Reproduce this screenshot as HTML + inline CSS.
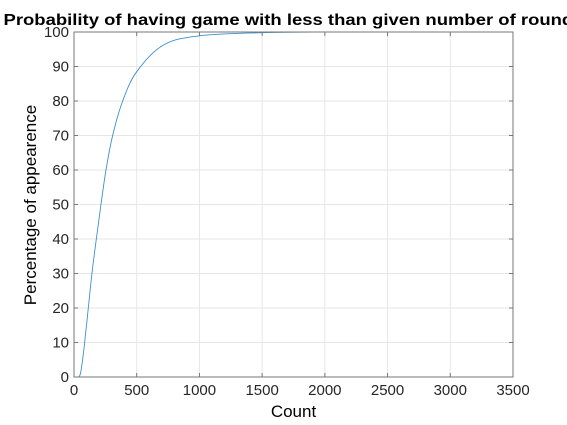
<!DOCTYPE html>
<html><head><meta charset="utf-8"><style>
html,body{margin:0;padding:0;background:#fff;}
svg{display:block;font-family:"Liberation Sans",Arial,sans-serif;}
</style></head><body>
<svg id="chart" width="567" height="425" viewBox="0 0 567 425" xmlns="http://www.w3.org/2000/svg">
<rect x="74" y="32" width="439" height="345" fill="#fff"/>
<g id="grid"></g>
<g id="curve"></g>
<g id="axes"></g>
<text x="293.5" y="25" text-anchor="middle" font-size="15.5" font-weight="bold" textLength="580" lengthAdjust="spacingAndGlyphs">Probability of having game with less than given number of rounds</text>
<text x="293.5" y="417" text-anchor="middle" font-size="17">Count</text>
<text transform="translate(36,205) rotate(-90)" text-anchor="middle" font-size="17">Percentage of appearence</text>
</svg>
<script>
const xTicks=[0,500,1000,1500,2000,2500,3000,3500];
const yTicks=[0,10,20,30,40,50,60,70,80,90,100];
const counts=[0,35,50,61,72,85,114,143,178,215,255,308,388,500,712,1000,1500,2000,3237];
const percents=[0,0,0.8,3,6,10,20,30,40,50,60,70,80,88.5,96.2,98.9,99.8,100,100];
const L=74,R=513,T=32,B=377;
const sx=v=>L+(v-0)/(3500-0)*(R-L);
const sy=v=>B-(v-0)/(100-0)*(B-T);
const NS="http://www.w3.org/2000/svg";
const grid=document.getElementById('grid'),axes=document.getElementById('axes'),curve=document.getElementById('curve');
function mk(tag,attrs,parent){const e=document.createElementNS(NS,tag);for(const k in attrs)e.setAttribute(k,attrs[k]);parent.appendChild(e);return e;}
xTicks.forEach(t=>{
  const g=mk('line',{x1:sx(t),x2:sx(t),y1:T,y2:B,stroke:'#e6e6e6','stroke-width':1},grid);
  
  
  const tk=mk('line',{x1:sx(t),x2:sx(t),y1:B,y2:B-4,stroke:'#777'},axes);
  
  
  const tk2=mk('line',{x1:sx(t),x2:sx(t),y1:T,y2:T+4,stroke:'#777'},axes);
  
  
  const tx=mk('text',{x:sx(t),y:B+18,'text-anchor':'middle','font-size':15,fill:'#262626'},axes);
  tx.textContent=t;
  
  
});
yTicks.forEach(t=>{
  const g=mk('line',{x1:L,x2:R,y1:sy(t),y2:sy(t),stroke:'#e6e6e6','stroke-width':1},grid);
  
  
  const tk=mk('line',{x1:L,x2:L+4,y1:sy(t),y2:sy(t),stroke:'#777'},axes);
  
  
  const tk2=mk('line',{x1:R,x2:R-4,y1:sy(t),y2:sy(t),stroke:'#777'},axes);
  
  
  const tx=mk('text',{x:L-5,y:sy(t)+5,'text-anchor':'end','font-size':15,fill:'#262626'},axes);
  tx.textContent=t;
  
  
});
const box=mk('rect',{x:L,y:T,width:R-L,height:B-T,fill:'none',stroke:'#777','stroke-width':1},axes);


// Catmull-Rom smoothing
const P=counts.map((c,i)=>[sx(c),sy(percents[i])]);
let d='M'+P[0][0]+','+P[0][1];
for(let i=0;i<P.length-1;i++){
  const p0=P[Math.max(0,i-1)],p1=P[i],p2=P[i+1],p3=P[Math.min(P.length-1,i+2)];
  const c1x=p1[0]+(p2[0]-p0[0])/6,c1y=Math.min(B,Math.max(T,p1[1]+(p2[1]-p0[1])/6));
  const c2x=p2[0]-(p3[0]-p1[0])/6,c2y=Math.min(B,Math.max(T,p2[1]-(p3[1]-p1[1])/6));
  d+=' C'+c1x+','+c1y+' '+c2x+','+c2y+' '+p2[0]+','+p2[1];
}
const p=mk('path',{d:d,fill:'none',stroke:'#3b8fd0','stroke-width':0.9},curve);


</script>
</body></html>
